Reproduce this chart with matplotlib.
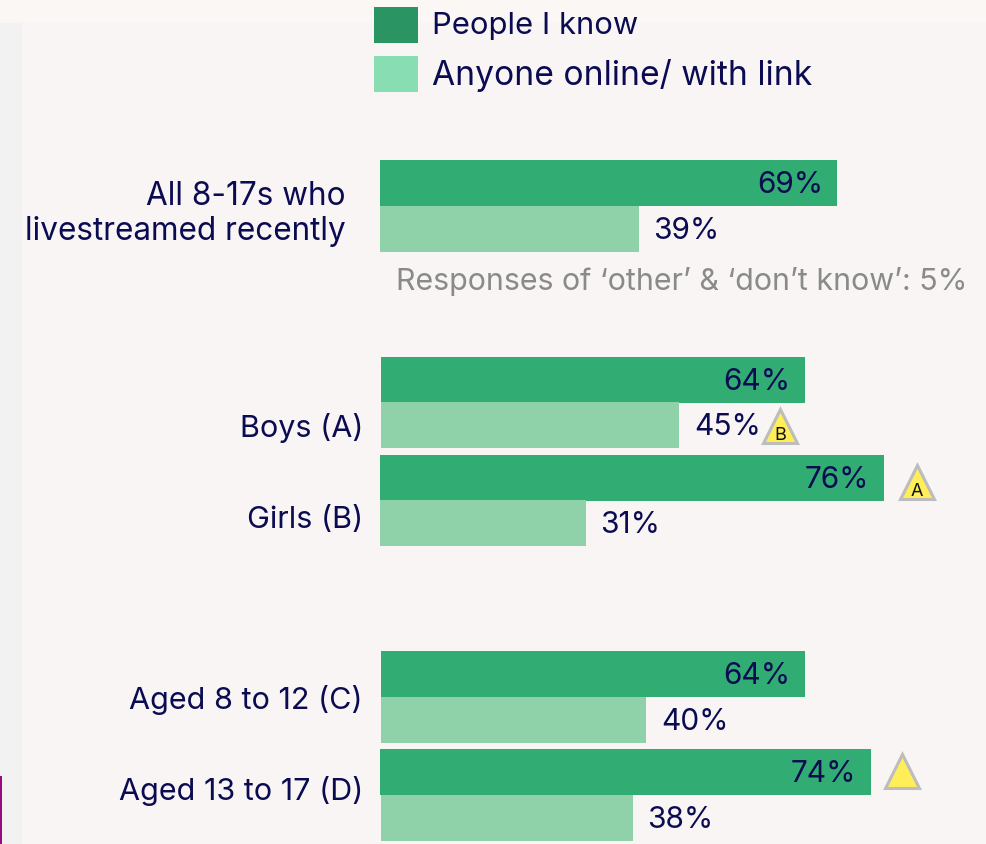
import matplotlib
matplotlib.use("Agg")
import matplotlib.pyplot as plt
from matplotlib.patches import Rectangle

plt.rcParams['font.family'] = ['Inter', 'DejaVu Sans']

# podatki
skupine = ["All 8-17s who\nlivestreamed recently", "Boys (A)", "Girls (B)",
           "Aged 8 to 12 (C)", "Aged 13 to 17 (D)"]
ljudje = [69, 64, 76, 64, 74]
kdorkoli = [39, 45, 31, 40, 38]
legenda = ["People I know", "Anyone online/ with link"]
opomba = "Responses of ‘other’ & ‘don’t know’: 5%"
oznake_trikotnikov = ["B", "A", ""]

# razporeditev v pikslih
W, H = 986, 844
PX_NA_ODSTOTEK = 6.63
temna_zac = [380, 381, 380, 381, 380]
svetla_zac = [380, 381, 380, 381, 381]
temna_y = [160, 357, 455, 651, 749]
svetla_y = [206, 402, 500, 697, 795]
visina = 46
napis_y = [214, 428, 519.5, 700, 791]
napis_x = [346, 363, 363, 363, 363]
napis_vel = [22.7, 22, 22, 22, 22]
legenda_y = [7, 56]
legenda_vel = [22.3, 24.2]
trikotnik_xy = [(780, 426), (917, 482), (902, 771)]

NAVY = "#0B0B52"
TEMNA = "#31AD74"
SVETLA = "#8FD2A9"
VEL = 21.5

fig = plt.figure(figsize=(W / 100, H / 100), dpi=100, facecolor="#F8F5F4")

# ozadje, legenda in besedilo v pikslih
pg = fig.add_axes([0, 0, 1, 1])
pg.set_xlim(0, W)
pg.set_ylim(H, 0)
pg.axis("off")
pg.add_patch(Rectangle((0, 0), W, 22, color="#FAF7F5", lw=0))
pg.add_patch(Rectangle((0, 23), 22, H - 23, color="#F2F2F2", lw=0))
pg.add_patch(Rectangle((0, 776), 2, H - 776, color="#990A80", lw=0))

for ime, y, barva, vel in zip(legenda, legenda_y, ["#2A9463", "#88DDB2"], legenda_vel):
    pg.add_patch(Rectangle((374, y), 44, 36, color=barva, lw=0))
    pg.text(432, y + 19, ime, color=NAVY, fontsize=vel, va="center", ha="left")

for ime, x, y, vel in zip(skupine, napis_x, napis_y, napis_vel):
    pg.text(x, y, ime, color=NAVY, fontsize=vel, va="center", ha="right",
            linespacing=1.2)

pg.text(396, 281.5, opomba, color="#8A8A8A", fontsize=21.9, va="center", ha="left")

for (x, y), crka in zip(trikotnik_xy, oznake_trikotnikov):
    pg.plot(x, y, marker="^", ms=25, mfc="#FFEE58", mec="#BDBDBD", mew=2.2)
    if crka:
        pg.text(x, y + 9, crka, color="#111111", fontsize=13, va="center", ha="center")

# stolpci v odstotkih
ax = fig.add_axes([0, 0, 1, 1])
ax.patch.set_alpha(0)
ax.set_xlim(-380 / PX_NA_ODSTOTEK, (W - 380) / PX_NA_ODSTOTEK)
ax.set_ylim(H, 0)
ax.axis("off")

for i in range(len(skupine)):
    lev = (temna_zac[i] - 380) / PX_NA_ODSTOTEK
    lev2 = (svetla_zac[i] - 380) / PX_NA_ODSTOTEK
    ax.barh(temna_y[i], ljudje[i], left=lev, height=visina, align="edge", color=TEMNA, lw=0)
    ax.barh(svetla_y[i], kdorkoli[i], left=lev2, height=visina, align="edge", color=SVETLA, lw=0)
    ax.annotate(f"{ljudje[i]}%", (ljudje[i] + lev, temna_y[i] + visina / 2 + 2),
                xytext=(-10.5, 0), textcoords="offset points",
                color=NAVY, fontsize=VEL, va="center", ha="right")
    ax.annotate(f"{kdorkoli[i]}%", (kdorkoli[i] + lev2, svetla_y[i] + visina / 2 + 2),
                xytext=(10.5, 0), textcoords="offset points",
                color=NAVY, fontsize=VEL, va="center", ha="left")

fig.savefig("out.png", dpi=100)
